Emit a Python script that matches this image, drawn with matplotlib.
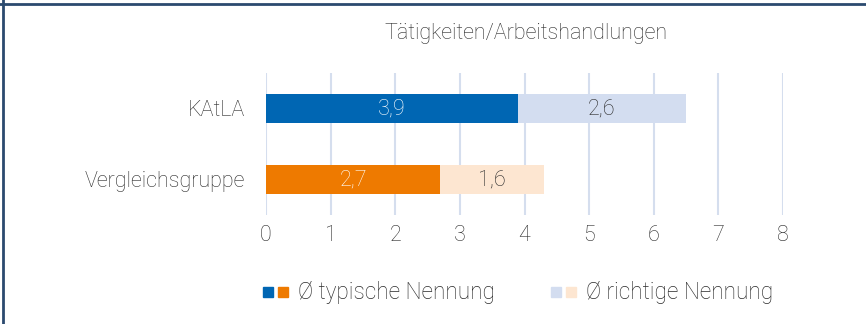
import numpy as np
import matplotlib.pyplot as plt
from matplotlib.lines import Line2D
from matplotlib.legend_handler import HandlerTuple

plt.rcParams['font.family'] = ['Roboto', 'DejaVu Sans']
plt.rcParams['font.weight'] = 'light'

groups = ['Vergleichsgruppe', 'KAtLA']
typisch = [2.7, 3.9]
richtig = [1.6, 2.6]
dark_cols = ['#EE7A00', '#0066B3']
light_cols = ['#FDE6D1', '#D3DDF0']
text_col = '#2A2A2A'
fs = 15.5

fig = plt.figure(figsize=(8.66, 3.24), dpi=100)
ax = fig.add_axes([266 / 866, 1 - 215 / 324, (783 - 266) / 866, 142 / 324])

y = np.arange(len(groups))
ax.barh(y, typisch, height=0.41, color=dark_cols, zorder=2)
ax.barh(y, richtig, left=typisch, height=0.41, color=light_cols, zorder=2)

for i in range(len(groups)):
    ax.text(typisch[i] / 2, y[i], f'{typisch[i]:.1f}'.replace('.', ','),
            ha='center', va='center', color='white', fontsize=fs)
    ax.text(typisch[i] + richtig[i] / 2, y[i], f'{richtig[i]:.1f}'.replace('.', ','),
            ha='center', va='center', color=text_col, fontsize=fs)

ax.set_xlim(0, 8)
ax.set_ylim(-0.5, 1.5)
ax.set_xticks(range(9))
ax.set_yticks(y)
ax.set_yticklabels(groups)
ax.tick_params(axis='both', length=0, labelsize=fs, labelcolor=text_col)
ax.tick_params(axis='x', pad=7)
ax.tick_params(axis='y', pad=15)
ax.grid(axis='x', color='#D5DEEE', linewidth=1.5, zorder=0)
for s in ax.spines.values():
    s.set_visible(False)

fig.text(526 / 866, 1 - 33 / 324, 'Tätigkeiten/Arbeitshandlungen',
         ha='center', va='center', fontsize=fs, color=text_col)

sq = dict(marker='s', linestyle='none', markersize=7.3)
h1 = (Line2D([], [], color=dark_cols[1], **sq), Line2D([], [], color=dark_cols[0], **sq))
h2 = (Line2D([], [], color=light_cols[1], **sq), Line2D([], [], color=light_cols[0], **sq))
leg = fig.legend([h1, h2], ['Ø typische Nennung', 'Ø richtige Nennung'],
                 handler_map={tuple: HandlerTuple(ndivide=None, pad=0.2)},
                 loc='center', bbox_to_anchor=(518 / 866, 1 - 293 / 324),
                 ncol=2, frameon=False, fontsize=16.3, handlelength=1.08,
                 handletextpad=0.45, columnspacing=2.5)
for t in leg.get_texts():
    t.set_color(text_col)

# frame lines along the top and left edge
fig.add_artist(Line2D([0, 1], [1 - 4 / 324] * 2, color='#2B4A6F', linewidth=2))
fig.add_artist(Line2D([3 / 866] * 2, [0, 1], color='#2B4A6F', linewidth=2))

fig.savefig('out.png', dpi=100)
